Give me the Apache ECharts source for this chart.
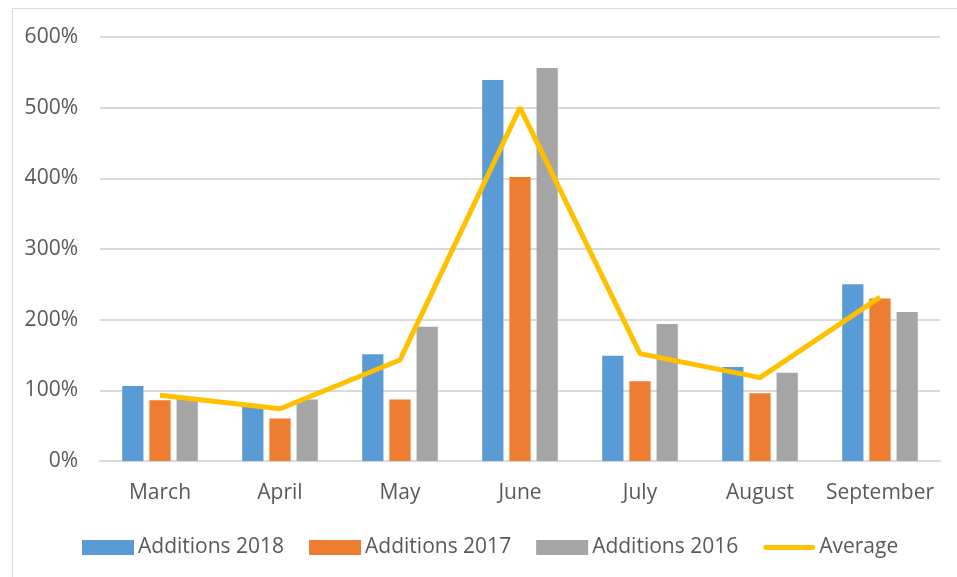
<!DOCTYPE html>
<html>
<head>
<meta charset="utf-8">
<script src="https://cdn.jsdelivr.net/npm/echarts@6/dist/echarts.min.js"></script>
<style>
  html, body { margin: 0; padding: 0; background: #fff; }
  #frame { position: absolute; left: 12px; top: 8px; width: 960px; height: 580px; border: 1px solid #D9D9D9; }
  #chart { position: absolute; left: 0; top: 0; width: 957px; height: 577px; }
</style>
</head>
<body>
<div id="frame"></div>
<div id="chart"></div>
<script>
const months = ['March', 'April', 'May', 'June', 'July', 'August', 'September'];
const additions2018 = [106, 77, 151, 539, 149, 133, 250];
const additions2017 = [86, 60, 87, 402, 113, 96, 230];
const additions2016 = [88, 87, 190, 556, 194, 125, 211];
const average = [93, 74, 143, 500, 152, 118, 232];

const textColor = '#595959';
const font = '"Open Sans", sans-serif';

const chart = echarts.init(document.getElementById('chart'));

const barSeries = (name, data, color) => ({
    name: name,
    type: 'bar',
    data: data,
    barGap: '28%',
    barCategoryGap: '37%',
    itemStyle: { color: color },
    z: 2
});

chart.setOption({
    animation: false,
    grid: { left: 100, right: 17, top: 37, bottom: 116 },
    legend: {
        bottom: 14,
        left: 77,
        itemWidth: 52,
        itemHeight: 15,
        itemGap: 25,
        textStyle: { color: textColor, fontFamily: font, fontSize: 21, padding: [0, 0, 0, -1] },
        data: [
            { name: 'Additions 2018', icon: 'rect' },
            { name: 'Additions 2017', icon: 'rect' },
            { name: 'Additions 2016', icon: 'rect' },
            { name: 'Average', icon: 'path://M2,0L50,0A2,2,0,0,1,50,5L2,5A2,2,0,0,1,2,0Z' }
        ]
    },
    xAxis: {
        type: 'category',
        data: months,
        axisLine: { lineStyle: { color: '#D9D9D9', width: 2 } },
        axisTick: { show: false },
        axisLabel: { interval: 0, color: textColor, fontFamily: font, fontSize: 21, margin: 22 }
    },
    yAxis: {
        type: 'value',
        min: 0,
        max: 600,
        interval: 100,
        axisLine: { show: false },
        axisTick: { show: false },
        splitLine: { lineStyle: { color: '#D9D9D9', width: 2 } },
        axisLabel: { color: textColor, fontFamily: font, fontSize: 21, margin: 22, formatter: '{value}%' }
    },
    series: [
        barSeries('Additions 2018', additions2018, '#5B9BD5'),
        barSeries('Additions 2017', additions2017, '#ED7D31'),
        barSeries('Additions 2016', additions2016, '#A5A5A5'),
        {
            name: 'Average',
            type: 'line',
            data: average,
            symbol: 'none',
            itemStyle: { color: '#FFC000' },
            lineStyle: { color: '#FFC000', width: 5 },
            z: 5
        }
    ]
});
</script>
</body>
</html>
